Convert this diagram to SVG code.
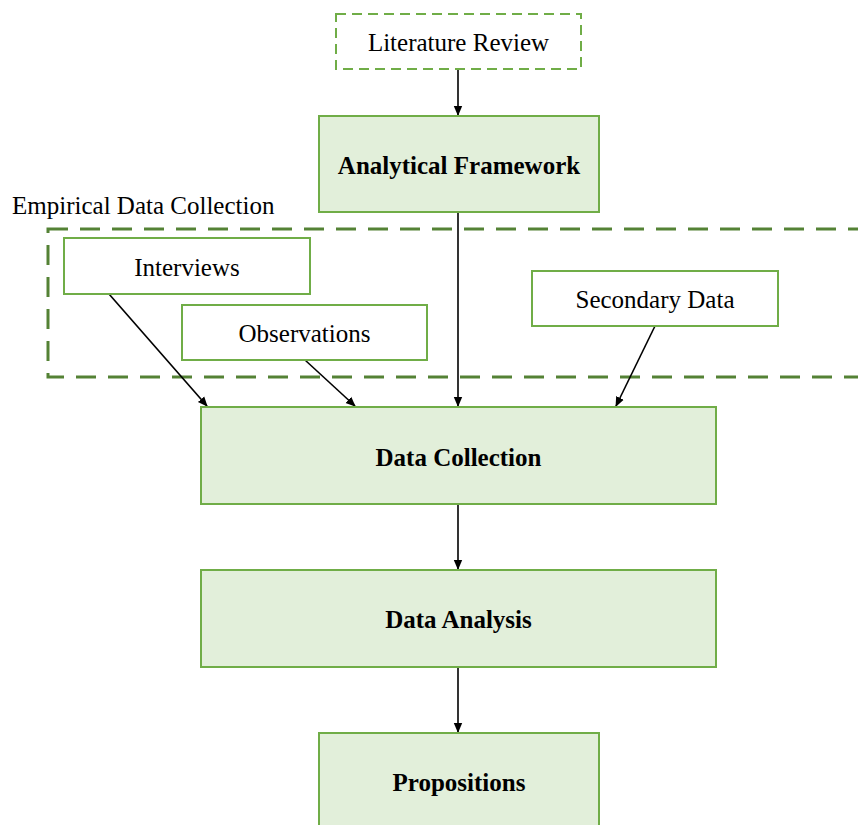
<svg xmlns="http://www.w3.org/2000/svg" width="858" height="825" viewBox="0 0 858 825">
  <style>
    .box { fill: #e2efda; stroke: #70ad47; stroke-width: 2; }
    .plain { fill: #ffffff; stroke: #70ad47; stroke-width: 2; }
    .dashbox { fill: #ffffff; stroke: #70ad47; stroke-width: 2; stroke-dasharray: 10 6; }
    .group { fill: none; stroke: #548235; stroke-width: 3; stroke-dasharray: 20 12; }
    .t { font-family: "Liberation Serif", "Times New Roman", serif; font-size: 25px; fill: #000; text-anchor: middle; dominant-baseline: central; }
    .b { font-weight: bold; }
    .edge { stroke: #000; stroke-width: 1.6; fill: none; marker-end: url(#arrow); }
  </style>
  <defs>
    <marker id="arrow" markerWidth="10" markerHeight="10" refX="9" refY="5" orient="auto" markerUnits="userSpaceOnUse">
      <path d="M0,0.8 L10,5 L0,9.2 Z" fill="#000"/>
    </marker>
  </defs>
  <rect width="858" height="825" fill="#ffffff"/>

  <!-- empirical data collection region -->
  <g id="empirical-group">
    <rect class="group" x="48" y="229" width="830" height="148"/>
    <text class="t" x="12" y="205" style="text-anchor:start">Empirical Data Collection</text>
  </g>

  <g id="connectors">
    <line class="edge" x1="458" y1="69" x2="458" y2="115"/>
    <line class="edge" x1="458" y1="212" x2="458" y2="406"/>
    <line class="edge" x1="109" y1="294" x2="207" y2="406"/>
    <line class="edge" x1="305" y1="360" x2="355" y2="406"/>
    <line class="edge" x1="655" y1="326" x2="616" y2="406"/>
    <line class="edge" x1="458" y1="504" x2="458" y2="569"/>
    <line class="edge" x1="458" y1="667" x2="458" y2="732"/>
  </g>

  <g id="literature-review">
    <rect class="dashbox" x="336" y="14" width="245" height="55"/>
    <text class="t" x="458.5" y="42">Literature Review</text>
  </g>
  <g id="analytical-framework">
    <rect class="box" x="319" y="116" width="280" height="96"/>
    <text class="t b" x="459" y="165">Analytical Framework</text>
  </g>
  <g id="interviews">
    <rect class="plain" x="64" y="238" width="246" height="56"/>
    <text class="t" x="187" y="267">Interviews</text>
  </g>
  <g id="observations">
    <rect class="plain" x="182" y="305" width="245" height="55"/>
    <text class="t" x="304.5" y="333">Observations</text>
  </g>
  <g id="secondary-data">
    <rect class="plain" x="532" y="271" width="246" height="55"/>
    <text class="t" x="655" y="299">Secondary Data</text>
  </g>
  <g id="data-collection">
    <rect class="box" x="201" y="407" width="515" height="97"/>
    <text class="t b" x="458.5" y="457">Data Collection</text>
  </g>
  <g id="data-analysis">
    <rect class="box" x="201" y="570" width="515" height="97"/>
    <text class="t b" x="458.5" y="619">Data Analysis</text>
  </g>
  <g id="propositions">
    <rect class="box" x="319" y="733" width="280" height="110"/>
    <text class="t b" x="459" y="782">Propositions</text>
  </g>
</svg>
